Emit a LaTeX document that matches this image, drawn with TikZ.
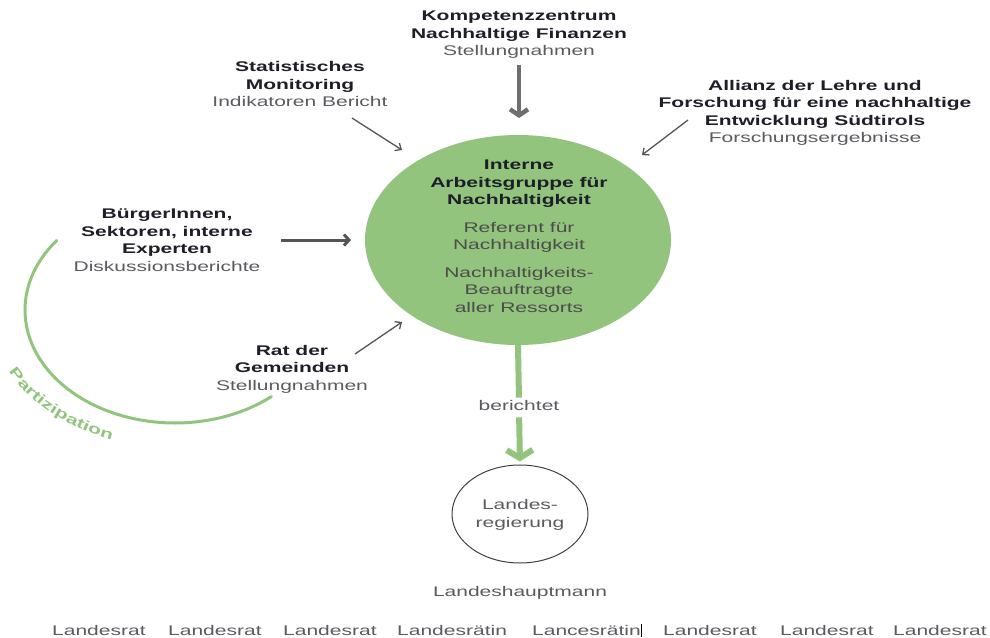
\documentclass[tikz,border=0pt]{standalone}
\usepackage{fontspec}
\setmainfont{Liberation Sans}[FakeStretch=1.5]
\usetikzlibrary{arrows.meta,shapes.geometric,decorations.text}
\definecolor{gr}{HTML}{93C47D}
\definecolor{dk}{HTML}{1E1E28}
\definecolor{tx}{HTML}{5A5A60}
\definecolor{ar}{HTML}{555555}
\newcommand\hd[1]{{\color{dk}\bfseries #1}}
\begin{document}
\begin{tikzpicture}[x=1pt,y=-1pt,
  lbl/.style={font=\fontsize{14}{17.5}\selectfont, align=center, inner sep=0pt, text=tx},
  thinarr/.style={draw=ar, line width=1.3pt, -{Straight Barb[length=5pt,width=9pt]}},
  midarr/.style={draw=ar, line width=3pt, -{Straight Barb[length=5pt,width=11pt]}},
  toparr/.style={draw=ar!85, line width=4.5pt, -{Straight Barb[length=6pt,width=18pt]}},
  grline/.style={draw=gr, line width=6pt},
  grarr/.style={draw=gr, line width=6pt, -{Straight Barb[length=8pt,width=26pt]}},
  oval/.style={ellipse, inner sep=0pt}]
\useasboundingbox (0,0) rectangle (990,637);

% central working group
\node[oval, fill=gr, minimum width=306pt, minimum height=210pt] (wg) at (518,240) {};
\node[lbl, text=black!70] (wgt) at (519,236) {\hd{Interne}\\\hd{Arbeitsgruppe für}\\\hd{Nachhaltigkeit}\\[10pt]Referent für\\Nachhaltigkeit\\[10pt]Nachhaltigkeits-\\Beauftragte\\aller Ressorts};

% sources
\node[lbl] (komp) at (519,35) {\hd{Kompetenzzentrum}\\\hd{Nachhaltige Finanzen}\\Stellungnahmen};
\node[lbl] (stat) at (300,84) {\hd{Statistisches}\\\hd{Monitoring}\\Indikatoren Bericht};
\node[lbl] (alli) at (815,113) {\hd{Allianz der Lehre und}\\\hd{Forschung für eine nachhaltige}\\\hd{Entwicklung Südtirols}\\Forschungsergebnisse};
\node[lbl] (burg) at (167,240) {\hd{BürgerInnen,}\\\hd{Sektoren, interne}\\\hd{Experten}\\Diskussionsberichte};
\node[lbl] (rat) at (292,369) {\hd{Rat der}\\\hd{Gemeinden}\\Stellungnahmen};

% arrows into the working group
\coordinate (k2) at (519,118);
\draw[toparr, shorten <=6pt] (komp.south) -- (k2);
\coordinate (s1) at (352,118);
\coordinate (s2) at (402,150);
\draw[thinarr] (s1) -- (s2);
\coordinate (a1) at (688,120);
\coordinate (a2) at (642,155);
\draw[thinarr] (a1) -- (a2);
\coordinate (b1) at (281,240);
\coordinate (b2) at (351,240);
\draw[midarr] (b1) -- (b2);
\coordinate (r1c) at (355,354);
\coordinate (r2c) at (402,322);
\draw[thinarr] (r1c) -- (r2c);

% participation arc
\draw[gr, line width=3pt, line cap=round] plot[domain=218:50, samples=60, smooth] ({175+150*cos(\x)},{310+113*sin(\x)});
\coordinate (pstart) at ({175+186*cos(162)},{310+138*sin(162)});
\path[decorate, decoration={text along path, text align=center,
  text={|\fontsize{14}{17}\selectfont\bfseries\color{gr}|Partizipation}}]
  (pstart) arc[start angle=162, end angle=103, x radius=186, y radius=138];

% reporting
\node[lbl] (ber) at (519,405) {berichtet};
\node[oval, draw=black!75, line width=1pt, minimum width=136pt, minimum height=98pt] (lr) at (520,514) {};
\node[lbl] (lrt) at (520,515) {Landes-\\regierung};
\draw[grline, shorten >=2pt] (wg.south) -- (ber.north);
\draw[grarr, shorten <=7pt, shorten >=3pt] (ber.south) -- (lr.north);

\node[lbl] (lh) at (520,593) {Landeshauptmann};

% bottom row
\node[lbl, anchor=base west] (m1) at (52,635) {Landesrat};
\node[lbl, anchor=base west] (m2) at (168,635) {Landesrat};
\node[lbl, anchor=base west] (m3) at (283,635) {Landesrat};
\node[lbl, anchor=base west] (m4) at (397,635) {Landesrätin};
\node[lbl, anchor=base west] (m5) at (532,635) {Lancesrätin\color{black}\rule[-2pt]{1.2pt}{13pt}};
\node[lbl, anchor=base west] (m6) at (663,635) {Landesrat};
\node[lbl, anchor=base west] (m7) at (780,635) {Landesrat};
\node[lbl, anchor=base west] (m8) at (893,635) {Landesrat};
\end{tikzpicture}
\end{document}
